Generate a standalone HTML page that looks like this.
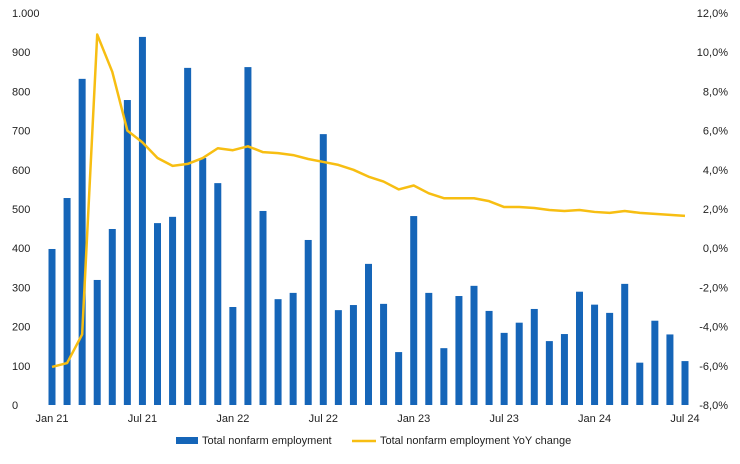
<!DOCTYPE html>
<html><head><meta charset="utf-8">
<style>
body{margin:0;background:#fff;font-family:"Liberation Sans",Arial,sans-serif;}
svg text{font-family:"Liberation Sans",Arial,sans-serif;font-size:11px;fill:#222;}
</style></head>
<body>
<svg id="chart" width="740" height="459" xmlns="http://www.w3.org/2000/svg">
<g id="bars"></g>
<g id="axes"></g>
<polyline id="line" fill="none" stroke="#F7BE12" stroke-width="2.5" stroke-linejoin="round"/>
<g>
<rect x="176" y="437" width="22" height="7" fill="#1565B8"/>
<text x="202" y="444">Total nonfarm employment</text>
<line x1="352" y1="441" x2="376" y2="441" stroke="#F7BE12" stroke-width="2.5"/>
<text x="380" y="444">Total nonfarm employment YoY change</text>
</g>
</svg>
<script>
const months = ["Jan 21","Feb 21","Mar 21","Apr 21","May 21","Jun 21","Jul 21","Aug 21","Sep 21","Oct 21","Nov 21","Dec 21","Jan 22","Feb 22","Mar 22","Apr 22","May 22","Jun 22","Jul 22","Aug 22","Sep 22","Oct 22","Nov 22","Dec 22","Jan 23","Feb 23","Mar 23","Apr 23","May 23","Jun 23","Jul 23","Aug 23","Sep 23","Oct 23","Nov 23","Dec 23","Jan 24","Feb 24","Mar 24","Apr 24","May 24","Jun 24","Jul 24"];
const employment = [398,528,832,319,449,778,939,464,480,860,630,566,250,862,495,270,286,421,691,242,255,360,258,135,482,286,145,278,304,240,184,210,245,163,181,289,256,235,309,108,215,180,112];
const yoy = [-6.06,-5.86,-4.4,10.9,9.0,6.0,5.4,4.6,4.2,4.3,4.6,5.1,5.0,5.2,4.9,4.85,4.75,4.55,4.4,4.25,4.0,3.65,3.4,3.0,3.2,2.8,2.55,2.55,2.55,2.4,2.1,2.1,2.05,1.95,1.9,1.95,1.85,1.8,1.9,1.8,1.75,1.7,1.65];
const leftTicks = ["0","100","200","300","400","500","600","700","800","900","1.000"];
const rightTicks = ["-8,0%","-6,0%","-4,0%","-2,0%","0,0%","2,0%","4,0%","6,0%","8,0%","10,0%","12,0%"];
const xLabels = ["Jan 21","Jul 21","Jan 22","Jul 22","Jan 23","Jul 23","Jan 24","Jul 24"];

const NS="http://www.w3.org/2000/svg";
const x0=52, x1=685, yB=405, yT=13;
const xs=i=>x0+(x1-x0)*i/(months.length-1);
const yL=v=>yB-(yB-yT)*v/1000;
const yR=p=>yB-(yB-yT)*(p+8)/20;
const bars=document.getElementById('bars'), axes=document.getElementById('axes');
employment.forEach((v,i)=>{
  const r=document.createElementNS(NS,'rect');
  
  
  r.setAttribute('x',xs(i)-3.5);r.setAttribute('y',yL(v));
  r.setAttribute('width',7);r.setAttribute('height',yB-yL(v));
  r.setAttribute('fill','#1565B8');bars.appendChild(r);
});
document.getElementById('line').setAttribute('points',yoy.map((p,i)=>xs(i)+','+yR(p)).join(' '));
leftTicks.forEach((t,i)=>{
  const e=document.createElementNS(NS,'text');
  
  
  e.setAttribute('x',12);e.setAttribute('y',yB-(yB-yT)*i/10+4);e.textContent=t;axes.appendChild(e);
});
rightTicks.forEach((t,i)=>{
  const e=document.createElementNS(NS,'text');
  
  
  e.setAttribute('x',728);e.setAttribute('text-anchor','end');
  e.setAttribute('y',yB-(yB-yT)*i/10+4);e.textContent=t;axes.appendChild(e);
});
xLabels.forEach(t=>{
  const i=months.indexOf(t);
  const e=document.createElementNS(NS,'text');
  
  
  e.setAttribute('x',xs(i));e.setAttribute('y',422);e.setAttribute('text-anchor','middle');
  e.textContent=t;axes.appendChild(e);
});
</script>
</body></html>
